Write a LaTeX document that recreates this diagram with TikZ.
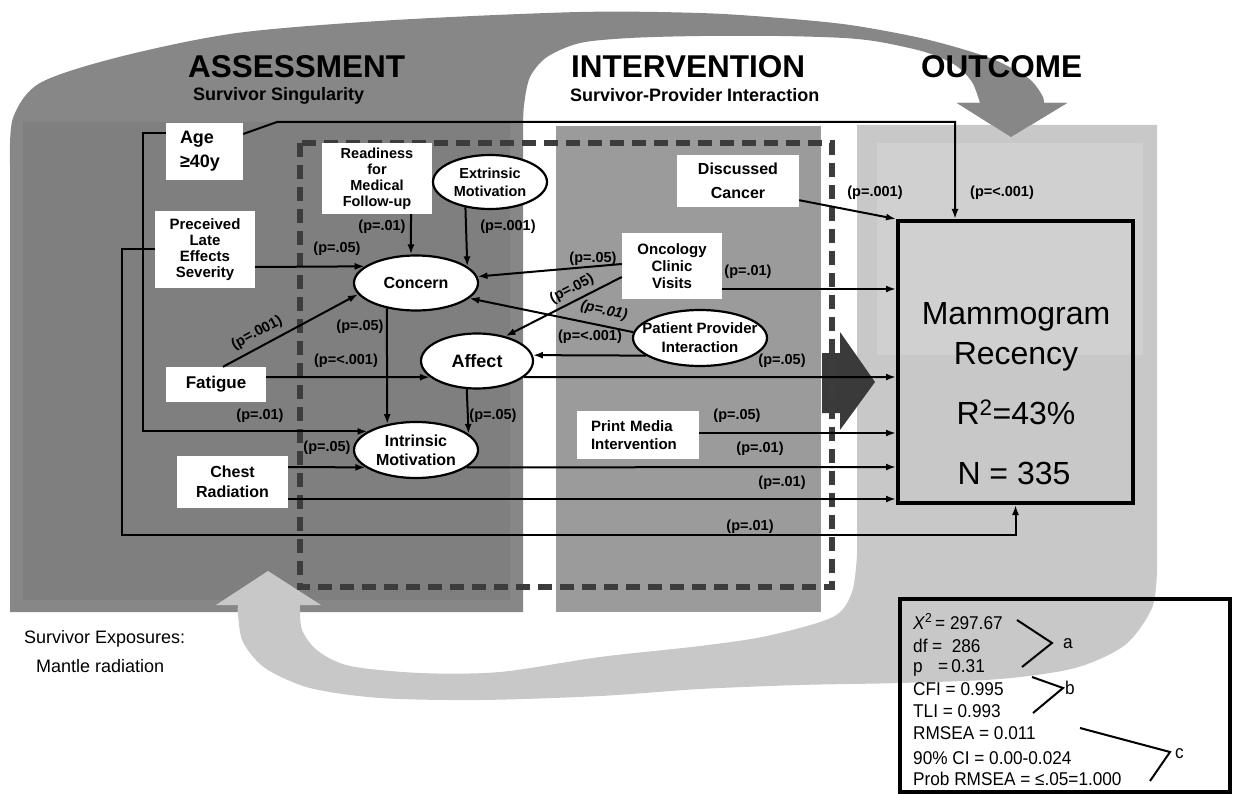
\documentclass[tikz,border=0pt]{standalone}
\usepackage{fontspec}
\setmainfont{Liberation Sans}
\newfontfamily\statf{Liberation Sans}[FakeStretch=0.93]
\usetikzlibrary{shapes.geometric,arrows.meta}
\definecolor{dkgray}{HTML}{878787}
\definecolor{dkgrayin}{HTML}{7F7F7F}
\definecolor{midgray}{HTML}{9B9B9B}
\definecolor{ltgray}{HTML}{C8C8C8}
\definecolor{ltgrayin}{HTML}{D0D0D0}
\definecolor{dashcol}{HTML}{3C3C3C}
\definecolor{dkarrow}{HTML}{3A3A3A}
\begin{document}
\begin{tikzpicture}[x=1pt,y=-1pt,
  box/.style={fill=white, inner sep=0pt, align=center, font=\bfseries\fontsize{15}{16}\selectfont},
  ell/.style={ellipse, draw=black, line width=2.2pt, fill=white, inner sep=0pt, align=center},
  arr/.style={-{Latex[length=10pt,width=7pt]}, line width=2pt},
  plab/.style={font=\bfseries\fontsize{14.5}{16}\selectfont, inner sep=0pt},
  ttl/.style={anchor=base west, inner sep=0pt, font=\bfseries\fontsize{31.5}{34}\selectfont},
  subt/.style={anchor=base west, inner sep=0pt, font=\bfseries\fontsize{18}{20}\selectfont},
  stat/.style={anchor=base west, inner sep=0pt, font=\statf\fontsize{18.5}{22}\selectfont},
  mtxt/.style={anchor=base, inner sep=0pt, font=\fontsize{32}{40}\selectfont},
]
\useasboundingbox (0,0) rectangle (1237,794);
\fill[white] (0,0) rectangle (1237,794);

% dark assessment region with top arc arrow
\fill[dkgray] (10,612) -- (10,165) -- plot[smooth] coordinates {(10,165) (13,118) (40,83) (119,57) (237,33) (395,20) (580,12) (700,13) (780,18) (850,25) (925,39) (990,58) (1028,78) (1042,95) (1044,103)} -- (1067,103) -- (1011,137) -- (957,103) -- (980,103) -- plot[smooth] coordinates {(980,103) (972,82) (955,65) (925,52) (880,42) (844,38) (780,36) (700,36) (630,38) (580,43) (547,57) (530,77) (524,105) (523,130)} -- (523,612) -- cycle;
\fill[dkgrayin] (23,122) rectangle (510,600);

% light outcome region with bottom arc arrow
\fill[ltgray] (857,125) -- (1157,125) -- (1157,570) -- plot[smooth] coordinates {(1157,570) (1152,608) (1125,645) (1075,668) (1000,679) (900,683) (800,685) (700,689) (600,696) (480,700) (380,698) (310,688) (265,668) (243,642) (238,615) (238,605)} -- (216,605) -- (268,571) -- (321,605) -- (300,605) -- plot[smooth] coordinates {(300,605) (302,630) (318,651) (350,666) (420,673) (500,672) (600,657) (700,646) (767,636) (833,617) (852,592) (857,555)} -- cycle;
\fill[dkgray] (1067,103) -- (1011,137) -- (957,103) -- cycle;
\fill[ltgrayin] (877,143) rectangle (1143,355);

% intervention region
\fill[midgray] (556,126) rectangle (821,612);
% dark arrow
\fill[dkarrow] (822,353) -- (840,353) -- (840,332) -- (875,382) -- (840,430) -- (840,413) -- (822,413) -- cycle;
% dashed frame
\draw[dashcol, line width=6.5pt, dash pattern=on 14pt off 8pt] (300,143) rectangle (832,587);

% titles
\node[ttl] (tA) at (188,78) {ASSESSMENT};
\node[subt] (sA) at (193,101) {Survivor Singularity};
\node[ttl] (tI) at (571,78) {INTERVENTION};
\node[subt] (sI) at (570,102) {Survivor-Provider Interaction};
\node[ttl] (tO) at (921,78) {OUTCOME};

% nodes
\node[box, font=\bfseries\fontsize{18}{24}\selectfont, align=left, text width=49pt, inner xsep=14pt, minimum height=57pt] (age) at (204.5,151.5) {Age\\≥40y};
\node[box, minimum width=110pt, minimum height=71pt, font=\bfseries\fontsize{14.5}{16}\selectfont] (ready) at (377,178.5) {Readiness\\for\\Medical\\Follow-up};
\node[ell, minimum width=114pt, minimum height=54pt, font=\bfseries\fontsize{14.5}{18}\selectfont] (extr) at (490,182) {Extrinsic\\Motivation};
\node[box, minimum width=100pt, minimum height=77pt] (prec) at (205,249.5) {Preceived\\Late\\Effects\\Severity};
\node[ell, minimum width=124pt, minimum height=55pt, font=\bfseries\fontsize{16}{18}\selectfont] (concern) at (416,283) {Concern};
\node[ell, minimum width=112pt, minimum height=55pt, font=\bfseries\fontsize{18}{20}\selectfont] (affect) at (477,361) {Affect};
\node[ell, minimum width=124pt, minimum height=56pt, font=\bfseries\fontsize{16}{19}\selectfont] (intr) at (416,450) {Intrinsic\\Motivation};
\node[box, minimum width=100pt, minimum height=35pt, font=\bfseries\fontsize{17}{20}\selectfont] (fatigue) at (216,384.5) {Fatigue};
\node[box, minimum width=111pt, minimum height=52pt, font=\bfseries\fontsize{16}{20}\selectfont] (chest) at (232.5,482) {Chest\\Radiation};
\node[box, minimum width=122pt, minimum height=52pt, font=\bfseries\fontsize{16}{24}\selectfont] (disc) at (738,181) {Discussed\\Cancer};
\node[box, minimum width=100pt, minimum height=66pt, font=\bfseries\fontsize{15}{17}\selectfont] (onco) at (672,266) {Oncology\\Clinic\\Visits};
\node[ell, minimum width=134pt, minimum height=56pt] (ppi) at (700,338) {};
\node[inner sep=0pt, align=center, font=\bfseries\fontsize{15}{19}\selectfont] (ppit) at (700,338) {Patient Provider\\Interaction};
\node[box, minimum height=48pt, align=left, text width=94pt, inner xsep=14pt, font=\bfseries\fontsize{15}{18}\selectfont] (print) at (638,435) {Print Media\\Intervention};
\node[draw=black, line width=4pt, minimum width=235pt, minimum height=282pt, inner sep=0pt] (mammo) at (1015.5,362) {};
\node[mtxt] (mt1) at (1016,324.5) {Mammogram};
\node[mtxt] (mt2) at (1016,364.5) {Recency};
\node[mtxt] (mt3) at (1016,424.5) {R\textsuperscript{2}=43\%};
\node[mtxt] (mt4) at (1014,484.5) {N = 335};

% connectors
\coordinate (agebend) at (277,122);
\coordinate (pbot) at (1015.5,535);
\draw[arr] ([yshift=17.5pt]age.east) -- (agebend) -| ([xshift=-60.5pt]mammo.north);
\draw[arr] ([yshift=18.5pt]age.west) -- ++(-23,0) |- (intr.159);
\draw[arr] (prec.west) -- ++(-33,0) |- (pbot) -- (mammo.south);
\draw[arr] ([xshift=34pt]ready.south) -- (concern.100);
\draw[arr] (extr.226) -- (concern.18);
\draw[arr] ([yshift=-17.5pt]prec.east) -- (concern.162);
\draw[arr] ([xshift=7pt]fatigue.north) -- (concern.191);
\draw[arr] ([yshift=7.5pt]fatigue.east) -- (affect.199);
\draw[arr] (affect.341) -- ([yshift=-15pt]mammo.west);
\draw[arr] (concern.221) -- (intr.138);
\draw[arr] (affect.250) -- (intr.17);
\draw[arr] ([yshift=15pt]chest.east) -- (intr.199);
\draw[arr] (intr.341) -- ([yshift=-105pt]mammo.west);
\draw[arr] ([yshift=-17pt]chest.east) -- ([yshift=-137pt]mammo.west);
\draw[arr] ([yshift=2pt]print.east) -- ([yshift=-71pt]mammo.west);
\draw[arr] ([yshift=-23pt]onco.east) -- ([yshift=73pt]mammo.west);
\draw[arr] ([yshift=2pt]onco.west) -- (concern.6);
\draw[arr] ([yshift=-11pt]onco.west) -- (affect.41);
\draw[arr] (ppi.175) -- (concern.344);
\draw[arr] (ppi.198) -- (affect.6);
\draw[arr] ([yshift=7pt]disc.south east) -- (mammo.north west);

% p labels
\node[plab] (p1) at (382,227) {(p=.01)};
\node[plab] (p2) at (508,227) {(p=.001)};
\node[plab] (p3) at (337,249) {(p=.05)};
\node[plab, rotate=28] (p4) at (257,333) {(p=.001)};
\node[plab] (p5) at (360,327) {(p=.05)};
\node[plab] (p6) at (346,361) {(p=<.001)};
\node[plab] (p7) at (260,416) {(p=.01)};
\node[plab] (p8) at (493,416) {(p=.05)};
\node[plab] (p9) at (327,448) {(p=.05)};
\node[plab] (p10) at (593,259) {(p=.05)};
\node[plab, rotate=27] (p11) at (572,289) {(p=.05)};
\node[plab, rotate=-12, font=\bfseries\itshape\fontsize{14.5}{16}\selectfont] (p12) at (604,311) {(p=.01)};
\node[plab] (p13) at (590,337) {(p=<.001)};
\node[plab] (p14) at (748,272) {(p=.01)};
\node[plab] (p15) at (782,361) {(p=.05)};
\node[plab] (p16) at (737,416) {(p=.05)};
\node[plab] (p17) at (760,449) {(p=.01)};
\node[plab] (p18) at (782,483) {(p=.01)};
\node[plab] (p19) at (750,527) {(p=.01)};
\node[plab] (p20) at (875,193) {(p=.001)};
\node[plab] (p21) at (1002,193) {(p=<.001)};

% survivor exposures
\node[anchor=base west, inner sep=0pt, font=\fontsize{18}{20}\selectfont] (se1) at (24,643) {Survivor Exposures:};
\node[anchor=base west, inner sep=0pt, font=\fontsize{18}{20}\selectfont] (se2) at (36,672) {Mantle radiation};

% stats box
\node[draw=black, line width=3.5pt, minimum width=330pt, minimum height=193pt, inner sep=0pt] (stats) at (1065,695.5) {};
\node[stat] (s1) at (913,629) {\makebox[22pt][l]{\textit{X}\textsuperscript{2}}= 297.67};
\node[stat] (s2) at (913,652) {\makebox[19pt][l]{df}= \ 286};
\node[stat] (s3) at (913,672) {\makebox[25pt][l]{p}=\,0.31};
\node[stat] (s4) at (913,695) {CFI = 0.995};
\node[stat] (s5) at (913,717) {TLI = 0.993};
\node[stat] (s6) at (913,739) {RMSEA = 0.011};
\node[stat] (s7) at (913,764) {90\% CI = 0.00-0.024};
\node[stat] (s8) at (913,785) {Prob RMSEA = ≤.05=1.000};
\draw[line width=2pt] (1017,620) -- (1052,643) -- (1022,667);
\node[stat] (sa) at (1063,648) {a};
\draw[line width=2pt] (1032,677) -- (1063,688) -- (1033,713);
\node[stat] (sb) at (1065,694) {b};
\draw[line width=2pt] (1080,728) -- (1170,752) -- (1150,781);
\node[stat] (sc) at (1175,758) {c};
\end{tikzpicture}
\end{document}
